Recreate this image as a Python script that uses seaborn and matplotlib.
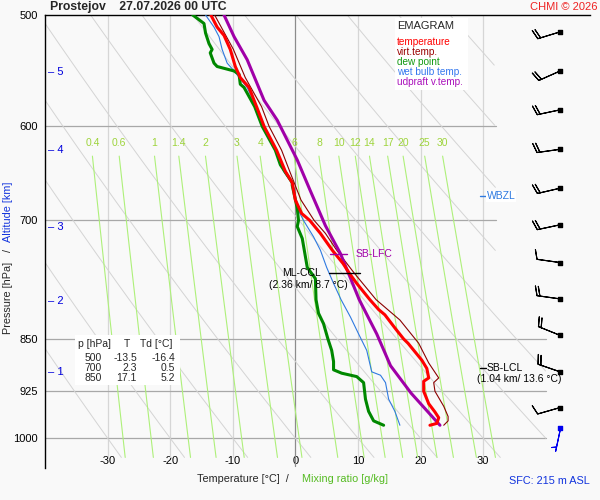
import numpy as np
import seaborn as sns
import matplotlib.pyplot as plt
from matplotlib.patches import Rectangle
from matplotlib.ticker import NullLocator

# ---- sounding data ----
temp_p = [979, 976, 967, 958, 945, 926, 911, 906, 892, 880, 856, 850, 837, 817, 810, 797, 776,
          763, 751, 735, 715, 700, 692, 677, 658, 646, 624, 600, 581, 563, 554, 544, 529, 517, 510, 500]
temp_t = [21.5, 22.6, 22.9, 22.3, 21.3, 20.5, 20.5, 21.3, 21.0, 20.2, 18.0, 17.3, 16.1, 14.3, 13.3, 11.9, 9.8,
          8.6, 7.6, 5.9, 4.0, 2.3, 1.0, 0.0, -0.5, -1.6, -3.0, -5.0, -6.2, -7.4, -8.8, -9.6, -10.4, -11.4, -12.5, -13.5]

virt_p = [979, 972, 965, 949, 926, 913, 906, 884, 856, 824, 797, 763, 735, 715, 700, 677, 646, 624, 600, 581, 554, 529, 500]
virt_t = [23.7, 24.4, 24.4, 23.7, 22.3, 22.1, 22.9, 21.3, 19.7, 16.7, 12.9, 9.4, 6.6, 4.8, 3.0, 0.9, -0.9, -2.2, -4.2, -5.4, -8.0, -9.9, -12.9]

dew_p = [979, 972, 957, 938, 913, 904, 899, 894, 882, 866, 850, 829, 815, 797, 770, 756, 721, 707, 700, 686,
         661, 658, 639, 624, 600, 581, 563, 560, 551, 548, 544, 541, 532, 529, 524, 515, 507, 500]
dew_t = [14.1, 12.5, 11.7, 11.2, 10.9, 9.8, 7.4, 6.1, 6.1, 5.8, 5.2, 4.5, 3.7, 3.3, 3.2, 1.9, 1.1, 0.3, 0.5, 0.3,
         -0.5, -0.5, -2.4, -3.2, -5.3, -6.5, -8.2, -8.8, -9.0, -9.8, -12.5, -13.0, -13.6, -13.3, -13.8, -14.35, -14.6, -16.4]

wb_p = [979, 957, 938, 913, 902, 897, 866, 843, 820, 797, 776, 756, 735, 719, 700, 686, 658, 646, 624, 600,
        581, 563, 548, 546, 541, 529, 518, 510, 500]
wb_t = [16.7, 15.9, 14.9, 14.4, 13.6, 12.2, 11.4, 10.1, 8.8, 7.3, 6.1, 5.0, 4.0, 2.9, 1.3, 0.3, -0.6, -1.9, -3.1, -5.2,
        -6.3, -7.7, -9.8, -10.1, -10.9, -11.7, -12.2, -13.0, -14.35]

updraft_p = [979, 929, 888, 843, 797, 739, 706, 667, 634, 594, 575, 538, 518, 500]
updraft_t = [23.1, 18.5, 15.2, 13.0, 10.2, 7.2, 4.8, 2.4, 0.3, -2.9, -5.0, -7.7, -9.8, -11.4]

# wind barbs: pressure, direction (deg), speed (kt)
wind_p = [514, 548, 584, 623, 664, 705, 750, 796, 845, 897, 951]
wind_dir = [253, 246, 258, 262, 257, 258, 278, 278, 292, 289, 254]
wind_spd = [20, 20, 20, 20, 20, 20, 10, 20, 20, 20, 10]
sfc_wind = (983, 192, 5)

# table of standard levels
table_p = ['500', '700', '850']
table_t = ['-13.5', '2.3', '17.1']
table_td = ['-16.4', '0.5', '5.2']

# altitude scale
alt_km = [1, 2, 3, 4, 5]
alt_p = [897, 799, 707, 624, 549]

# chart furniture
isobars = [600, 700, 850, 925, 1000]
isobar_right = [32, 32, 40, 40, 40]
isotherms = [-30, -20, -10, 0, 10, 20, 30]
mix_ratios = [0.4, 0.6, 1, 1.4, 2, 3, 4, 6, 8, 10, 12, 14, 17, 20, 25, 30]
mix_labels = ['0.4', '0.6', '1', '1.4', '2', '3', '4', '6', '8', '10', '12', '14', '17', '20', '25', '30']
adiabat_t1000 = np.arange(-30, 110, 10)

sns.set_theme(style='white')
plt.rcParams['font.family'] = ['Liberation Sans', 'DejaVu Sans']
bg = '#f9f9f9'

fig = plt.figure(figsize=(6, 5), dpi=100, facecolor=bg)
ax = fig.add_axes([45 / 600, 1 - 468 / 500, 545 / 600, 453 / 500], facecolor=bg)
ax.set_yscale('log')
ax.set_xlim(-40, 47.07)
ax.set_ylim(1050, 500)

# isotherms
for t in isotherms:
    if t == 0:
        ax.plot([t, t], [500, 1047], color='#8c8c8c', lw=0.9, zorder=1)
    else:
        ax.plot([t, t], [500, 1032], color='#d6d6d6', lw=0.9, zorder=1)

# isobars
for p, right in zip(isobars, isobar_right):
    ax.plot([-40, right], [p, p], color='#a8a8a8', lw=0.9, zorder=1)

# dry adiabats
pp = np.linspace(500, 1032, 200)
for t0 in adiabat_t1000:
    tt = (t0 + 273.15) * (pp / 1000.0) ** 0.286 - 273.15
    bound = np.where(pp < 815, 32, 40)
    tt = np.where(tt > bound, np.nan, tt)
    ax.plot(tt, pp, color='#d4d4d4', lw=0.7, zorder=1)

# mixing ratio lines
pm = np.linspace(630, 1032, 50)
for w, lab in zip(mix_ratios, mix_labels):
    e = w * pm / (622.0 + w)
    le = np.log(e / 6.112)
    td = 243.5 * le / (17.67 - le)
    ax.plot(td, pm, color='#aef07a', lw=0.8, zorder=1)
    ax.text(td[0], 617, lab, color='#9ed43c', fontsize=7.5, ha='center', va='center')

# profiles
sns.lineplot(x=virt_t, y=virt_p, sort=False, estimator=None, color='#8b0000', lw=0.8, ax=ax, zorder=4)
sns.lineplot(x=wb_t, y=wb_p, sort=False, estimator=None, color='#2f7ae0', lw=0.8, ax=ax, zorder=4)
sns.lineplot(x=updraft_t, y=updraft_p, sort=False, estimator=None, color='#a000a8', lw=2.2, ax=ax, zorder=5)
sns.lineplot(x=dew_t, y=dew_p, sort=False, estimator=None, color='#008800', lw=2.2, ax=ax, zorder=5)
sns.lineplot(x=temp_t, y=temp_p, sort=False, estimator=None, color='#ff0000', lw=2.2, ax=ax, zorder=6)

# levels
ax.plot([5.6, 8.3], [740, 740], color='#a000a8', lw=1, zorder=7)
ax.text(9.6, 740, 'SB-LFC', color='#a000a8', fontsize=7.5, va='center', ha='left')
ax.plot([5.3, 10.4], [763, 763], color='black', lw=1, zorder=7)
ax.text(1.0, 763, 'ML-CCL', color='black', fontsize=7.5, va='center', ha='center', zorder=8)
ax.text(2.0, 778, '(2.36 km/ 8.7 °C)', color='black', fontsize=7.5, va='center', ha='center', zorder=8)
ax.plot([29.5, 30.4], [892, 892], color='black', lw=1)
ax.text(30.6, 892, 'SB-LCL', color='black', fontsize=7.5, va='center', ha='left')
ax.text(35.8, 908, '(1.04 km/ 13.6 °C)', color='black', fontsize=7.5, va='center', ha='center')
ax.plot([29.5, 30.4], [673, 673], color='#2f7ae0', lw=1)
ax.text(30.6, 673, 'WBZL', color='#2f7ae0', fontsize=7.5, va='center', ha='left',
        bbox=dict(facecolor='white', edgecolor='none', pad=0.5))

# wind barbs
wd = np.radians(wind_dir)
u = -np.array(wind_spd) * np.sin(wd)
v = -np.array(wind_spd) * np.cos(wd)
xb = np.full(len(wind_p), 42.3)
ax.barbs(xb, wind_p, u, v, length=5.8, pivot='tip', color='black', lw=0.8, zorder=8)
ax.scatter(xb, wind_p, marker='s', s=5, color='black', zorder=9)
sd = np.radians(sfc_wind[1])
ax.barbs([42.3], [sfc_wind[0]], [-sfc_wind[2] * np.sin(sd)], [-sfc_wind[2] * np.cos(sd)],
         length=5.8, pivot='tip', color='#0000ee', lw=0.8, zorder=8)
ax.scatter([42.3], [sfc_wind[0]], marker='s', s=5, color='#0000ee', zorder=9)

# altitude scale
for km, p in zip(alt_km, alt_p):
    ax.text(-39.6, p, '– %d' % km, color='#0000dd', fontsize=8, va='center', ha='left')

# axes
for s in ['right', 'bottom']:
    ax.spines[s].set_visible(False)
for s in ['left', 'top']:
    ax.spines[s].set_color('black')
    ax.spines[s].set_linewidth(1)
ax.yaxis.set_minor_locator(NullLocator())
ax.set_yticks([500] + isobars)
ax.set_yticklabels(['500', '600', '700', '850', '925', '1000'])
ax.set_xticks(isotherms)
ax.set_xticklabels([str(t) for t in isotherms])
ax.tick_params(axis='y', length=0, pad=5, labelsize=8, colors='black')
ax.tick_params(axis='x', length=0, pad=-8.6, labelsize=8, colors='black')
ax.set_xlabel('')
ax.set_ylabel('')


def fx(px):
    return px / 600


def fy(py):
    return 1 - py / 500


# title
fig.text(fx(50), fy(7), 'Prostejov    27.07.2026 00 UTC', fontsize=8.8, fontweight='bold', va='center', ha='left')
fig.text(fx(597), fy(7), 'CHMI © 2026', fontsize=8, color='#ee2222', va='center', ha='right')

# legend box
fig.add_artist(Rectangle((fx(395), fy(90)), 73 / 600, 72 / 500, transform=fig.transFigure,
                         facecolor='white', edgecolor='none', zorder=2))
fig.text(fx(397), fy(26), 'EMAGRAM', fontsize=8, va='center', ha='left')
legend_items = ['temperature', 'virt.temp.', 'dew point', 'wet bulb temp.', 'udpraft v.temp.']
legend_colors = ['#ff0000', '#990000', '#119911', '#3377ee', '#aa11bb']
for i, (lab, c) in enumerate(zip(legend_items, legend_colors)):
    fig.text(fx(397), fy(42 + 10 * i), lab, fontsize=7.2, color=c, va='center', ha='left')

# value table
fig.add_artist(Rectangle((fx(75), fy(385)), 105 / 600, 50 / 500, transform=fig.transFigure,
                         facecolor='white', edgecolor='none', zorder=2))
fig.text(fx(78), fy(344), 'p [hPa]', fontsize=7.5, va='center', ha='left')
fig.text(fx(127), fy(344), 'T', fontsize=7.5, va='center', ha='center')
fig.text(fx(140), fy(344), 'Td [°C]', fontsize=7.5, va='center', ha='left')
for i in range(len(table_p)):
    y = fy(358 + 10 * i)
    fig.text(fx(102), y, table_p[i], fontsize=7.5, va='center', ha='right')
    fig.text(fx(137), y, table_t[i], fontsize=7.5, va='center', ha='right')
    fig.text(fx(175), y, table_td[i], fontsize=7.5, va='center', ha='right')

# axis labels
fig.text(fx(8), fy(298), 'Pressure [hPa]', rotation=90, fontsize=7.8, va='center', ha='center')
fig.text(fx(8), fy(250), '/', rotation=90, fontsize=7.8, va='center', ha='center')
fig.text(fx(8), fy(212), 'Altitude [km]', rotation=90, fontsize=7.8, color='#1133dd', va='center', ha='center')
fig.text(fx(197), fy(479), 'Temperature [°C]  /', fontsize=7.8, va='center', ha='left')
fig.text(fx(302), fy(479), 'Mixing ratio [g/kg]', fontsize=7.8, color='#55bb22', va='center', ha='left')
fig.text(fx(590), fy(481), 'SFC: 215 m ASL', fontsize=7.8, color='#1133dd', va='center', ha='right')

fig.savefig('out.png', dpi=100, facecolor=bg)
